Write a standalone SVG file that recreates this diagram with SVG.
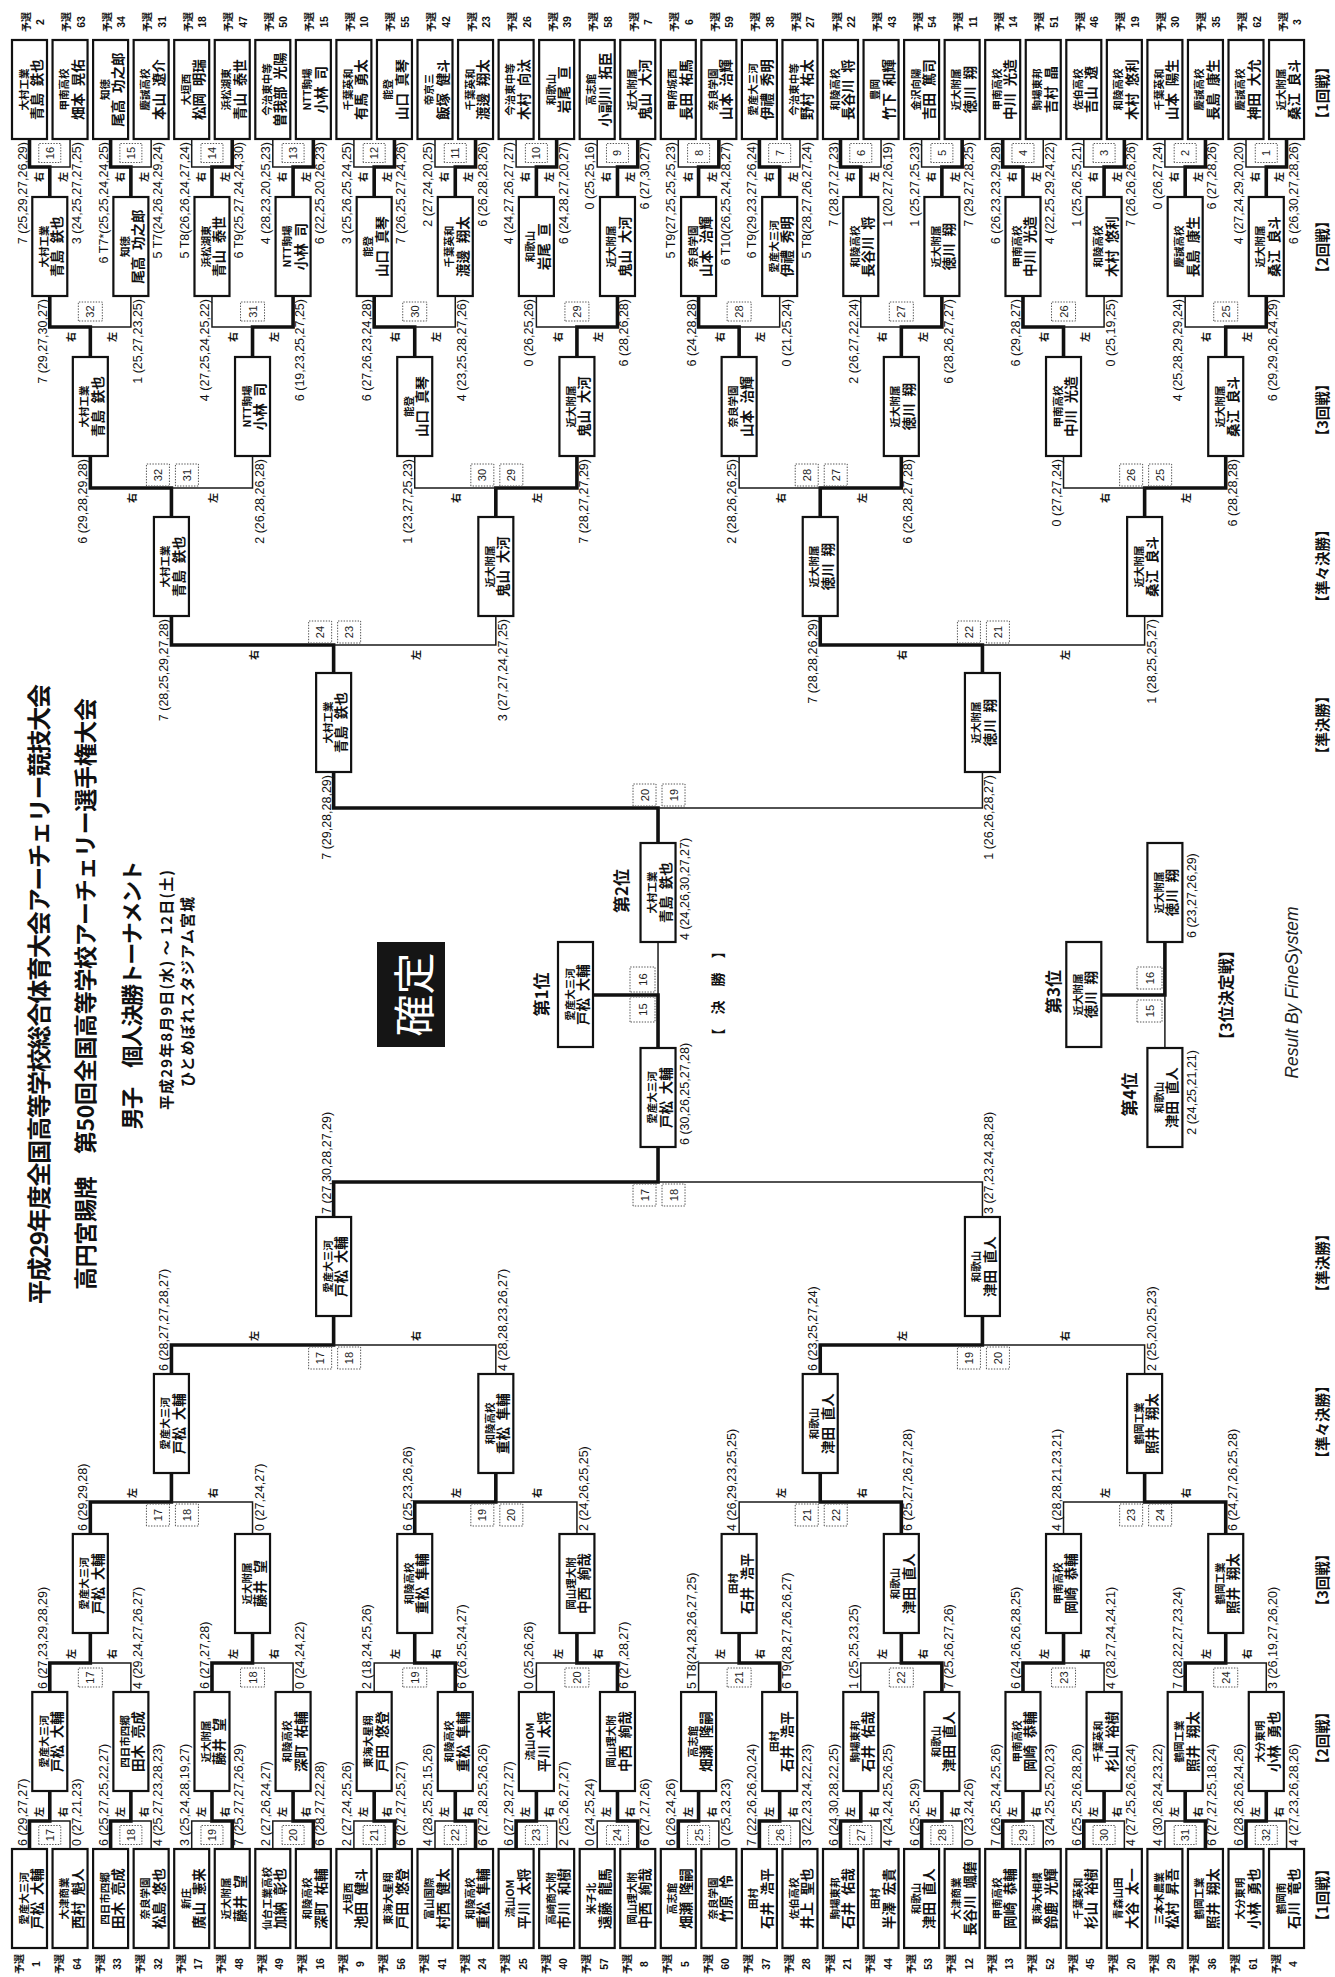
<svg xmlns="http://www.w3.org/2000/svg" width="1335" height="1977" viewBox="0 0 1335 1977">
<style>
text,tspan{dominant-baseline:central}
.b{fill:#fff;stroke:#111;stroke-width:2.2}
.k{fill:none;stroke:#111;stroke-width:3.6}
.t{fill:none;stroke:#1a1a1a;stroke-width:1.5}
.m{fill:#fff;stroke:#555;stroke-width:1;stroke-dasharray:1.4 1.4}
.s{font-family:'Noto Sans CJK JP',sans-serif;font-size:10.5px;font-weight:700;text-anchor:middle;fill:#111}
.n{font-family:'Noto Sans CJK JP',sans-serif;font-size:13.5px;font-weight:700;text-anchor:middle;fill:#111}
.y{font-family:'Noto Sans CJK JP',sans-serif;font-size:10px;font-weight:700;text-anchor:middle;fill:#111}
.yn{font-family:'Liberation Sans',Arial,sans-serif;font-size:10.5px;font-weight:700;text-anchor:middle;fill:#111}
.sc{font-family:'Liberation Sans',Arial,sans-serif;font-size:12.5px;fill:#111}
.e{text-anchor:end}
.st{text-anchor:start}
.mn{font-family:'Liberation Sans',Arial,sans-serif;font-size:11px;text-anchor:middle;fill:#222}
.lr{font-family:'Noto Sans CJK JP',sans-serif;font-size:10px;font-weight:700;text-anchor:middle;fill:#111}
.ti{font-family:'Noto Sans CJK JP',sans-serif;font-weight:700;text-anchor:middle;fill:#111}
.rd{font-family:'Noto Sans CJK JP',sans-serif;font-size:14.5px;font-weight:700;text-anchor:middle;fill:#111}
</style>
<rect width="1335" height="1977" fill="#fff"/>
<g id="page" transform="translate(0 1977) rotate(-90)">

<g id="connectors">
<path class="k" d="M1838 29.5H1810V49.78H1780M1838 110.6H1810V130.88H1780M1838 232.25H1810V211.98H1780M1838 313.35H1810V293.08H1780M1838 394.45H1810V374.18H1780M1838 475.55H1810V455.28H1780M1838 556.65H1810V536.38H1780M1838 637.75H1810V617.48H1780M1838 718.85H1810V698.58H1780M1838 759.4H1810V779.68H1780M1838 840.5H1810V860.78H1780M1838 962.15H1810V941.88H1780M1838 1002.7H1810V1022.98H1780M1838 1124.35H1810V1104.08H1780M1838 1205.45H1810V1185.18H1780M1838 1286.55H1810V1266.28H1780"/>
<path class="t" d="M1810 49.78V70.05H1838M1810 130.88V151.15H1838M1810 211.98V191.7H1838M1810 293.08V272.8H1838M1810 374.18V353.9H1838M1810 455.28V435H1838M1810 536.38V516.1H1838M1810 617.48V597.2H1838M1810 698.58V678.3H1838M1810 779.68V799.95H1838M1810 860.78V881.05H1838M1810 941.88V921.6H1838M1810 1022.98V1043.25H1838M1810 1104.08V1083.8H1838M1810 1185.18V1164.9H1838M1810 1266.28V1246H1838"/>
<path class="k" d="M1681 49.78H1650V90.33H1620M1681 293.08H1650V252.53H1620M1681 374.18H1650V414.73H1620M1681 617.48H1650V576.93H1620M1681 698.58H1650V739.13H1620M1681 941.88H1650V901.33H1620M1681 1022.98H1650V1063.53H1620M1681 1266.28H1650V1225.73H1620"/>
<path class="t" d="M1650 90.33V130.88H1681M1650 252.53V211.98H1681M1650 414.73V455.28H1681M1650 576.93V536.38H1681M1650 739.13V779.68H1681M1650 901.33V860.78H1681M1650 1063.53V1104.08H1681M1650 1225.73V1185.18H1681"/>
<path class="k" d="M1521 90.33H1489V171.43H1460M1521 576.93H1489V495.83H1460M1521 901.33H1489V820.23H1460M1521 1225.73H1489V1144.63H1460"/>
<path class="t" d="M1489 171.43V252.53H1521M1489 495.83V414.73H1521M1489 820.23V739.13H1521M1489 1144.63V1063.53H1521"/>
<path class="k" d="M1361 171.43H1332V333.63H1304M1361 820.23H1332V982.43H1304"/>
<path class="t" d="M1332 333.63V495.83H1361M1332 982.43V1144.63H1361"/>
<path class="k" d="M1205 333.63H1169V658.03H1134"/>
<path class="t" d="M1169 658.03V982.43H1205"/>
<path class="k" d="M128 29.5H156V49.78H186M128 110.6H156V130.88H186M128 232.25H156V211.98H186M128 313.35H156V293.08H186M128 394.45H156V374.18H186M128 475.55H156V455.28H186M128 516.1H156V536.38H186M128 637.75H156V617.48H186M128 678.3H156V698.58H186M128 759.4H156V779.68H186M128 840.5H156V860.78H186M128 921.6H156V941.88H186M128 1002.7H156V1022.98H186M128 1083.8H156V1104.08H186M128 1205.45H156V1185.18H186M128 1246H156V1266.28H186"/>
<path class="t" d="M156 49.78V70.05H128M156 130.88V151.15H128M156 211.98V191.7H128M156 293.08V272.8H128M156 374.18V353.9H128M156 455.28V435H128M156 536.38V556.65H128M156 617.48V597.2H128M156 698.58V718.85H128M156 779.68V799.95H128M156 860.78V881.05H128M156 941.88V962.15H128M156 1022.98V1043.25H128M156 1104.08V1124.35H128M156 1185.18V1164.9H128M156 1266.28V1286.55H128"/>
<path class="k" d="M285 49.78H314V90.33H344M285 211.98H314V252.53H344M285 455.28H314V414.73H344M285 617.48H314V576.93H344M285 779.68H314V739.13H344M285 941.88H314V901.33H344M285 1022.98H314V1063.53H344M285 1185.18H314V1225.73H344"/>
<path class="t" d="M314 90.33V130.88H285M314 252.53V293.08H285M314 414.73V374.18H285M314 576.93V536.38H285M314 739.13V698.58H285M314 901.33V860.78H285M314 1063.53V1104.08H285M314 1225.73V1266.28H285"/>
<path class="k" d="M443 90.33H475V171.43H504M443 414.73H475V495.83H504M443 901.33H475V820.23H504M443 1225.73H475V1144.63H504"/>
<path class="t" d="M475 171.43V252.53H443M475 495.83V576.93H443M475 820.23V739.13H443M475 1144.63V1063.53H443"/>
<path class="k" d="M603 171.43H632V333.63H661M603 820.23H632V982.43H661"/>
<path class="t" d="M632 333.63V495.83H603M632 982.43V1144.63H603"/>
<path class="k" d="M760 333.63H795V658.03H830"/>
<path class="t" d="M795 658.03V982.43H760"/>
<path class="k" d="M929 658.03H982V593"/>
<path class="t" d="M982 658.03H1035"/>
<path class="k" d="M1035 1164.9H982V1101.3"/>
<path class="t" d="M982 1164.9H930"/>

<g id="match-numbers">
<rect class="m" x="1814.5" y="38.78" width="19" height="22"/><rect class="m" x="1814.5" y="119.88" width="19" height="22"/><rect class="m" x="1814.5" y="200.98" width="19" height="22"/><rect class="m" x="1814.5" y="282.08" width="19" height="22"/><rect class="m" x="1814.5" y="363.18" width="19" height="22"/><rect class="m" x="1814.5" y="444.28" width="19" height="22"/><rect class="m" x="1814.5" y="525.38" width="19" height="22"/><rect class="m" x="1814.5" y="606.48" width="19" height="22"/><rect class="m" x="1814.5" y="687.58" width="19" height="22"/><rect class="m" x="1814.5" y="768.68" width="19" height="22"/><rect class="m" x="1814.5" y="849.78" width="19" height="22"/><rect class="m" x="1814.5" y="930.88" width="19" height="22"/><rect class="m" x="1814.5" y="1011.98" width="19" height="22"/><rect class="m" x="1814.5" y="1093.08" width="19" height="22"/><rect class="m" x="1814.5" y="1174.18" width="19" height="22"/><rect class="m" x="1814.5" y="1255.28" width="19" height="22"/>
<text class="mn"><tspan x="1824" y="49.78">16</tspan><tspan x="1824" y="130.88">15</tspan><tspan x="1824" y="211.98">14</tspan><tspan x="1824" y="293.08">13</tspan><tspan x="1824" y="374.18">12</tspan><tspan x="1824" y="455.28">11</tspan><tspan x="1824" y="536.38">10</tspan><tspan x="1824" y="617.48">9</tspan><tspan x="1824" y="698.58">8</tspan><tspan x="1824" y="779.68">7</tspan><tspan x="1824" y="860.78">6</tspan><tspan x="1824" y="941.88">5</tspan><tspan x="1824" y="1022.98">4</tspan><tspan x="1824" y="1104.08">3</tspan><tspan x="1824" y="1185.18">2</tspan><tspan x="1824" y="1266.28">1</tspan></text>
<rect class="m" x="132.5" y="38.78" width="19" height="22"/><rect class="m" x="132.5" y="119.88" width="19" height="22"/><rect class="m" x="132.5" y="200.98" width="19" height="22"/><rect class="m" x="132.5" y="282.08" width="19" height="22"/><rect class="m" x="132.5" y="363.18" width="19" height="22"/><rect class="m" x="132.5" y="444.28" width="19" height="22"/><rect class="m" x="132.5" y="525.38" width="19" height="22"/><rect class="m" x="132.5" y="606.48" width="19" height="22"/><rect class="m" x="132.5" y="687.58" width="19" height="22"/><rect class="m" x="132.5" y="768.68" width="19" height="22"/><rect class="m" x="132.5" y="849.78" width="19" height="22"/><rect class="m" x="132.5" y="930.88" width="19" height="22"/><rect class="m" x="132.5" y="1011.98" width="19" height="22"/><rect class="m" x="132.5" y="1093.08" width="19" height="22"/><rect class="m" x="132.5" y="1174.18" width="19" height="22"/><rect class="m" x="132.5" y="1255.28" width="19" height="22"/>
<text class="mn"><tspan x="142" y="49.78">17</tspan><tspan x="142" y="130.88">18</tspan><tspan x="142" y="211.98">19</tspan><tspan x="142" y="293.08">20</tspan><tspan x="142" y="374.18">21</tspan><tspan x="142" y="455.28">22</tspan><tspan x="142" y="536.38">23</tspan><tspan x="142" y="617.48">24</tspan><tspan x="142" y="698.58">25</tspan><tspan x="142" y="779.68">26</tspan><tspan x="142" y="860.78">27</tspan><tspan x="142" y="941.88">28</tspan><tspan x="142" y="1022.98">29</tspan><tspan x="142" y="1104.08">30</tspan><tspan x="142" y="1185.18">31</tspan><tspan x="142" y="1266.28">32</tspan></text>
<rect class="m" x="1656" y="78.33" width="19" height="24"/><rect class="m" x="1656" y="240.53" width="19" height="24"/><rect class="m" x="1656" y="402.73" width="19" height="24"/><rect class="m" x="1656" y="564.93" width="19" height="24"/><rect class="m" x="1656" y="727.13" width="19" height="24"/><rect class="m" x="1656" y="889.33" width="19" height="24"/><rect class="m" x="1656" y="1051.53" width="19" height="24"/><rect class="m" x="1656" y="1213.73" width="19" height="24"/>
<text class="mn"><tspan x="1665.5" y="90.33">32</tspan><tspan x="1665.5" y="252.53">31</tspan><tspan x="1665.5" y="414.73">30</tspan><tspan x="1665.5" y="576.93">29</tspan><tspan x="1665.5" y="739.13">28</tspan><tspan x="1665.5" y="901.33">27</tspan><tspan x="1665.5" y="1063.53">26</tspan><tspan x="1665.5" y="1225.73">25</tspan></text>
<rect class="m" x="290" y="78.33" width="19" height="24"/><rect class="m" x="290" y="240.53" width="19" height="24"/><rect class="m" x="290" y="402.73" width="19" height="24"/><rect class="m" x="290" y="564.93" width="19" height="24"/><rect class="m" x="290" y="727.13" width="19" height="24"/><rect class="m" x="290" y="889.33" width="19" height="24"/><rect class="m" x="290" y="1051.53" width="19" height="24"/><rect class="m" x="290" y="1213.73" width="19" height="24"/>
<text class="mn"><tspan x="299.5" y="90.33">17</tspan><tspan x="299.5" y="252.53">18</tspan><tspan x="299.5" y="414.73">19</tspan><tspan x="299.5" y="576.93">20</tspan><tspan x="299.5" y="739.13">21</tspan><tspan x="299.5" y="901.33">22</tspan><tspan x="299.5" y="1063.53">23</tspan><tspan x="299.5" y="1225.73">24</tspan></text>
<rect class="m" x="1491" y="146.43" width="22" height="23"/><rect class="m" x="1491" y="175.43" width="22" height="23"/><rect class="m" x="1491" y="470.83" width="22" height="23"/><rect class="m" x="1491" y="499.83" width="22" height="23"/><rect class="m" x="1491" y="795.23" width="22" height="23"/><rect class="m" x="1491" y="824.23" width="22" height="23"/><rect class="m" x="1491" y="1119.63" width="22" height="23"/><rect class="m" x="1491" y="1148.63" width="22" height="23"/>
<text class="mn"><tspan x="1502" y="157.93">32</tspan><tspan x="1502" y="186.93">31</tspan><tspan x="1502" y="482.33">30</tspan><tspan x="1502" y="511.33">29</tspan><tspan x="1502" y="806.73">28</tspan><tspan x="1502" y="835.73">27</tspan><tspan x="1502" y="1131.13">26</tspan><tspan x="1502" y="1160.13">25</tspan></text>
<rect class="m" x="451" y="146.43" width="22" height="23"/><rect class="m" x="451" y="175.43" width="22" height="23"/><rect class="m" x="451" y="470.83" width="22" height="23"/><rect class="m" x="451" y="499.83" width="22" height="23"/><rect class="m" x="451" y="795.23" width="22" height="23"/><rect class="m" x="451" y="824.23" width="22" height="23"/><rect class="m" x="451" y="1119.63" width="22" height="23"/><rect class="m" x="451" y="1148.63" width="22" height="23"/>
<text class="mn"><tspan x="462" y="157.93">17</tspan><tspan x="462" y="186.93">18</tspan><tspan x="462" y="482.33">19</tspan><tspan x="462" y="511.33">20</tspan><tspan x="462" y="806.73">21</tspan><tspan x="462" y="835.73">22</tspan><tspan x="462" y="1131.13">23</tspan><tspan x="462" y="1160.13">24</tspan></text>
<rect class="m" x="1334" y="308.63" width="22" height="23"/><rect class="m" x="1334" y="337.63" width="22" height="23"/><rect class="m" x="1334" y="957.43" width="22" height="23"/><rect class="m" x="1334" y="986.43" width="22" height="23"/>
<text class="mn"><tspan x="1345" y="320.13">24</tspan><tspan x="1345" y="349.13">23</tspan><tspan x="1345" y="968.93">22</tspan><tspan x="1345" y="997.93">21</tspan></text>
<rect class="m" x="608" y="308.63" width="22" height="23"/><rect class="m" x="608" y="337.63" width="22" height="23"/><rect class="m" x="608" y="957.43" width="22" height="23"/><rect class="m" x="608" y="986.43" width="22" height="23"/>
<text class="mn"><tspan x="619" y="320.13">17</tspan><tspan x="619" y="349.13">18</tspan><tspan x="619" y="968.93">19</tspan><tspan x="619" y="997.93">20</tspan></text>
<rect class="m" x="1171" y="633.03" width="22" height="23"/><rect class="m" x="1171" y="662.03" width="22" height="23"/>
<text class="mn"><tspan x="1182" y="644.53">20</tspan><tspan x="1182" y="673.53">19</tspan></text>
<rect class="m" x="771" y="633.03" width="22" height="23"/><rect class="m" x="771" y="662.03" width="22" height="23"/>
<text class="mn"><tspan x="782" y="644.53">17</tspan><tspan x="782" y="673.53">18</tspan></text>
<rect class="m" x="985" y="630" width="25" height="25"/><rect class="m" x="955" y="630" width="25" height="25"/>
<text class="mn"><tspan x="997.5" y="642.5">16</tspan><tspan x="967.5" y="642.5">15</tspan></text>
<rect class="m" x="988" y="1137" width="22" height="25"/><rect class="m" x="955" y="1137" width="22" height="25"/>
<text class="mn"><tspan x="999" y="1149.5">16</tspan><tspan x="966" y="1149.5">15</tspan></text>
</g>

<g id="side-labels">
<text class="lr"><tspan x="1800" y="37.78">右</tspan><tspan x="1800" y="61.78">左</tspan><tspan x="1800" y="118.88">右</tspan><tspan x="1800" y="142.88">左</tspan><tspan x="1800" y="199.98">右</tspan><tspan x="1800" y="223.98">左</tspan><tspan x="1800" y="281.08">右</tspan><tspan x="1800" y="305.08">左</tspan><tspan x="1800" y="362.18">右</tspan><tspan x="1800" y="386.18">左</tspan><tspan x="1800" y="443.28">右</tspan><tspan x="1800" y="467.28">左</tspan><tspan x="1800" y="524.38">右</tspan><tspan x="1800" y="548.38">左</tspan><tspan x="1800" y="605.48">右</tspan><tspan x="1800" y="629.48">左</tspan><tspan x="1800" y="686.58">右</tspan><tspan x="1800" y="710.58">左</tspan><tspan x="1800" y="767.68">右</tspan><tspan x="1800" y="791.68">左</tspan><tspan x="1800" y="848.78">右</tspan><tspan x="1800" y="872.78">左</tspan><tspan x="1800" y="929.88">右</tspan><tspan x="1800" y="953.88">左</tspan><tspan x="1800" y="1010.98">右</tspan><tspan x="1800" y="1034.98">左</tspan><tspan x="1800" y="1092.08">右</tspan><tspan x="1800" y="1116.08">左</tspan><tspan x="1800" y="1173.18">右</tspan><tspan x="1800" y="1197.18">左</tspan><tspan x="1800" y="1254.28">右</tspan><tspan x="1800" y="1278.28">左</tspan></text>
<text class="lr"><tspan x="1640" y="70.05">右</tspan><tspan x="1640" y="110.61">左</tspan><tspan x="1640" y="232.25">右</tspan><tspan x="1640" y="272.81">左</tspan><tspan x="1640" y="394.45">右</tspan><tspan x="1640" y="435.01">左</tspan><tspan x="1640" y="556.65">右</tspan><tspan x="1640" y="597.21">左</tspan><tspan x="1640" y="718.85">右</tspan><tspan x="1640" y="759.41">左</tspan><tspan x="1640" y="881.05">右</tspan><tspan x="1640" y="921.61">左</tspan><tspan x="1640" y="1043.25">右</tspan><tspan x="1640" y="1083.81">左</tspan><tspan x="1640" y="1205.45">右</tspan><tspan x="1640" y="1246.01">左</tspan></text>
<text class="lr"><tspan x="1479" y="130.88">右</tspan><tspan x="1479" y="211.98">左</tspan><tspan x="1479" y="455.28">右</tspan><tspan x="1479" y="536.38">左</tspan><tspan x="1479" y="779.68">右</tspan><tspan x="1479" y="860.78">左</tspan><tspan x="1479" y="1104.08">右</tspan><tspan x="1479" y="1185.18">左</tspan></text>
<text class="lr"><tspan x="1322" y="252.53">右</tspan><tspan x="1322" y="414.73">左</tspan><tspan x="1322" y="901.33">右</tspan><tspan x="1322" y="1063.53">左</tspan></text>
<text class="lr"><tspan x="165" y="37.78">左</tspan><tspan x="165" y="61.78">右</tspan><tspan x="165" y="118.88">左</tspan><tspan x="165" y="142.88">右</tspan><tspan x="165" y="199.98">左</tspan><tspan x="165" y="223.98">右</tspan><tspan x="165" y="281.08">左</tspan><tspan x="165" y="305.08">右</tspan><tspan x="165" y="362.18">左</tspan><tspan x="165" y="386.18">右</tspan><tspan x="165" y="443.28">左</tspan><tspan x="165" y="467.28">右</tspan><tspan x="165" y="524.38">左</tspan><tspan x="165" y="548.38">右</tspan><tspan x="165" y="605.48">左</tspan><tspan x="165" y="629.48">右</tspan><tspan x="165" y="686.58">左</tspan><tspan x="165" y="710.58">右</tspan><tspan x="165" y="767.68">左</tspan><tspan x="165" y="791.68">右</tspan><tspan x="165" y="848.78">左</tspan><tspan x="165" y="872.78">右</tspan><tspan x="165" y="929.88">左</tspan><tspan x="165" y="953.88">右</tspan><tspan x="165" y="1010.98">左</tspan><tspan x="165" y="1034.98">右</tspan><tspan x="165" y="1092.08">左</tspan><tspan x="165" y="1116.08">右</tspan><tspan x="165" y="1173.18">左</tspan><tspan x="165" y="1197.18">右</tspan><tspan x="165" y="1254.28">左</tspan><tspan x="165" y="1278.28">右</tspan></text>
<text class="lr"><tspan x="323" y="70.05">左</tspan><tspan x="323" y="110.61">右</tspan><tspan x="323" y="232.25">左</tspan><tspan x="323" y="272.81">右</tspan><tspan x="323" y="394.45">左</tspan><tspan x="323" y="435.01">右</tspan><tspan x="323" y="556.65">左</tspan><tspan x="323" y="597.21">右</tspan><tspan x="323" y="718.85">左</tspan><tspan x="323" y="759.41">右</tspan><tspan x="323" y="881.05">左</tspan><tspan x="323" y="921.61">右</tspan><tspan x="323" y="1043.25">左</tspan><tspan x="323" y="1083.81">右</tspan><tspan x="323" y="1205.45">左</tspan><tspan x="323" y="1246.01">右</tspan></text>
<text class="lr"><tspan x="484" y="130.88">左</tspan><tspan x="484" y="211.98">右</tspan><tspan x="484" y="455.28">左</tspan><tspan x="484" y="536.38">右</tspan><tspan x="484" y="779.68">左</tspan><tspan x="484" y="860.78">右</tspan><tspan x="484" y="1104.08">左</tspan><tspan x="484" y="1185.18">右</tspan></text>
<text class="lr"><tspan x="641" y="252.53">左</tspan><tspan x="641" y="414.73">右</tspan><tspan x="641" y="901.33">左</tspan><tspan x="641" y="1063.53">右</tspan></text>
</g>

<g id="scores">
<text class="sc e"><tspan x="1835" y="22.5">7 (25,29,27,26,29)</tspan><tspan x="1835" y="77.05">3 (24,25,27,27,25)</tspan><tspan x="1835" y="103.6">6 T7*(25,25,24,24,25)</tspan><tspan x="1835" y="158.15">5 T7(24,26,24,29,24)</tspan><tspan x="1835" y="184.7">5 T8(26,26,24,27,24)</tspan><tspan x="1835" y="239.25">6 T9(25,27,24,24,30)</tspan><tspan x="1835" y="265.8">4 (28,23,20,25,23)</tspan><tspan x="1835" y="320.35">6 (22,25,20,26,23)</tspan><tspan x="1835" y="346.9">3 (25,26,25,24,25)</tspan><tspan x="1835" y="401.45">7 (26,25,27,24,26)</tspan><tspan x="1835" y="428">2 (27,24,20,25)</tspan><tspan x="1835" y="482.55">6 (26,28,28,26)</tspan><tspan x="1835" y="509.1">4 (24,27,26,27,27)</tspan><tspan x="1835" y="563.65">6 (24,28,27,20,27)</tspan><tspan x="1835" y="590.2">0 (25,25,16)</tspan><tspan x="1835" y="644.75">6 (27,30,27)</tspan><tspan x="1835" y="671.3">5 T9(27,25,25,25,23)</tspan><tspan x="1835" y="725.85">6 T10(26,25,24,28,27)</tspan><tspan x="1835" y="752.4">6 T9(29,23,27,26,24)</tspan><tspan x="1835" y="806.95">5 T8(28,27,26,27,24)</tspan><tspan x="1835" y="833.5">7 (28,27,27,23)</tspan><tspan x="1835" y="888.05">1 (20,27,26,19)</tspan><tspan x="1835" y="914.6">1 (25,27,25,23)</tspan><tspan x="1835" y="969.15">7 (29,27,28,25)</tspan><tspan x="1835" y="995.7">6 (26,23,23,29,28)</tspan><tspan x="1835" y="1050.25">4 (22,25,29,24,22)</tspan><tspan x="1835" y="1076.8">1 (25,26,25,21)</tspan><tspan x="1835" y="1131.35">7 (26,26,26,26)</tspan><tspan x="1835" y="1157.9">0 (26,27,24)</tspan><tspan x="1835" y="1212.45">6 (27,28,26)</tspan><tspan x="1835" y="1239">4 (27,24,29,20,20)</tspan><tspan x="1835" y="1293.55">6 (26,30,27,28,26)</tspan></text>
<text class="sc e"><tspan x="1678" y="42.78">7 (29,27,30,27)</tspan><tspan x="1678" y="137.88">1 (25,27,23,25)</tspan><tspan x="1678" y="204.98">4 (27,25,24,25,22)</tspan><tspan x="1678" y="300.08">6 (19,23,25,27,25)</tspan><tspan x="1678" y="367.18">6 (27,26,23,24,28)</tspan><tspan x="1678" y="462.28">4 (23,25,28,27,26)</tspan><tspan x="1678" y="529.38">0 (26,25,26)</tspan><tspan x="1678" y="624.48">6 (28,26,28)</tspan><tspan x="1678" y="691.58">6 (24,28,28)</tspan><tspan x="1678" y="786.68">0 (21,25,24)</tspan><tspan x="1678" y="853.78">2 (26,27,22,24)</tspan><tspan x="1678" y="948.88">6 (28,26,27,27)</tspan><tspan x="1678" y="1015.98">6 (29,28,27)</tspan><tspan x="1678" y="1111.08">0 (25,19,25)</tspan><tspan x="1678" y="1178.18">4 (25,28,29,29,24)</tspan><tspan x="1678" y="1273.28">6 (29,29,26,24,29)</tspan></text>
<text class="sc e"><tspan x="1518" y="83.33">6 (29,28,29,28)</tspan><tspan x="1518" y="259.53">2 (26,28,26,28)</tspan><tspan x="1518" y="407.73">1 (23,27,25,23)</tspan><tspan x="1518" y="583.93">7 (28,27,27,29)</tspan><tspan x="1518" y="732.13">2 (28,26,26,25)</tspan><tspan x="1518" y="908.33">6 (26,28,27,28)</tspan><tspan x="1518" y="1056.53">0 (27,27,24)</tspan><tspan x="1518" y="1232.73">6 (28,28,28)</tspan></text>
<text class="sc e"><tspan x="1358" y="164.43">7 (28,25,29,27,28)</tspan><tspan x="1358" y="502.83">3 (27,27,24,27,25)</tspan><tspan x="1358" y="813.23">7 (28,28,26,29)</tspan><tspan x="1358" y="1151.63">1 (28,25,25,27)</tspan></text>
<text class="sc e"><tspan x="1202" y="326.63">7 (29,28,28,29)</tspan><tspan x="1202" y="989.43">1 (26,26,28,27)</tspan></text>
<text class="sc st"><tspan x="131" y="22.5">6 (29,27,27)</tspan><tspan x="131" y="77.05">0 (27,21,23)</tspan><tspan x="131" y="103.6">6 (25,27,25,22,27)</tspan><tspan x="131" y="158.15">4 (25,27,23,28,23)</tspan><tspan x="131" y="184.7">3 (25,24,28,19,27)</tspan><tspan x="131" y="239.25">7 (25,27,27,26,29)</tspan><tspan x="131" y="265.8">2 (27,26,24,27)</tspan><tspan x="131" y="320.35">6 (28,27,22,28)</tspan><tspan x="131" y="346.9">2 (27,24,25,26)</tspan><tspan x="131" y="401.45">6 (27,27,25,27)</tspan><tspan x="131" y="428">4 (28,25,25,15,26)</tspan><tspan x="131" y="482.55">6 (27,28,25,26,26)</tspan><tspan x="131" y="509.1">6 (27,29,27,27)</tspan><tspan x="131" y="563.65">2 (25,26,27,27)</tspan><tspan x="131" y="590.2">0 (24,25,24)</tspan><tspan x="131" y="644.75">6 (27,27,26)</tspan><tspan x="131" y="671.3">6 (26,24,26)</tspan><tspan x="131" y="725.85">0 (25,23,23)</tspan><tspan x="131" y="752.4">7 (22,26,26,20,24)</tspan><tspan x="131" y="806.95">3 (22,23,24,22,23)</tspan><tspan x="131" y="833.5">6 (24,30,28,22,25)</tspan><tspan x="131" y="888.05">4 (24,24,25,26,25)</tspan><tspan x="131" y="914.6">6 (25,25,29)</tspan><tspan x="131" y="969.15">0 (23,24,26)</tspan><tspan x="131" y="995.7">7 (26,25,24,25,26)</tspan><tspan x="131" y="1050.25">3 (24,25,25,20,23)</tspan><tspan x="131" y="1076.8">6 (25,25,26,28,26)</tspan><tspan x="131" y="1131.35">4 (27,25,26,26,24)</tspan><tspan x="131" y="1157.9">4 (30,26,24,23,22)</tspan><tspan x="131" y="1212.45">6 (27,27,25,18,24)</tspan><tspan x="131" y="1239">6 (28,26,26,24,26)</tspan><tspan x="131" y="1293.55">4 (27,23,26,28,26)</tspan></text>
<text class="sc st"><tspan x="288" y="42.78">6 (27,23,29,28,29)</tspan><tspan x="288" y="137.88">4 (29,24,27,26,27)</tspan><tspan x="288" y="204.98">6 (27,27,28)</tspan><tspan x="288" y="300.08">0 (24,24,22)</tspan><tspan x="288" y="367.18">2 (18,24,25,26)</tspan><tspan x="288" y="462.28">6 (26,25,24,27)</tspan><tspan x="288" y="529.38">0 (25,26,26)</tspan><tspan x="288" y="624.48">6 (27,28,27)</tspan><tspan x="288" y="691.58">5 T8(24,28,26,27,25)</tspan><tspan x="288" y="786.68">6 T9(28,27,26,26,27)</tspan><tspan x="288" y="853.78">1 (25,25,23,25)</tspan><tspan x="288" y="948.88">7 (25,26,27,26)</tspan><tspan x="288" y="1015.98">6 (24,26,26,28,25)</tspan><tspan x="288" y="1111.08">4 (28,27,24,24,21)</tspan><tspan x="288" y="1178.18">7 (28,22,27,23,24)</tspan><tspan x="288" y="1273.28">3 (26,19,27,26,20)</tspan></text>
<text class="sc st"><tspan x="446" y="83.33">6 (29,29,28)</tspan><tspan x="446" y="259.53">0 (27,24,27)</tspan><tspan x="446" y="407.73">6 (25,23,26,26)</tspan><tspan x="446" y="583.93">2 (24,26,25,25)</tspan><tspan x="446" y="732.13">4 (26,29,23,25,25)</tspan><tspan x="446" y="908.33">6 (25,27,26,27,28)</tspan><tspan x="446" y="1056.53">4 (28,28,21,23,21)</tspan><tspan x="446" y="1232.73">6 (24,27,26,25,28)</tspan></text>
<text class="sc st"><tspan x="606" y="164.43">6 (28,27,27,28,27)</tspan><tspan x="606" y="502.83">4 (28,28,23,26,27)</tspan><tspan x="606" y="813.23">6 (23,25,27,24)</tspan><tspan x="606" y="1151.63">2 (25,20,25,23)</tspan></text>
<text class="sc st"><tspan x="763" y="326.63">7 (27,30,28,27,29)</tspan><tspan x="763" y="989.43">3 (27,23,24,28,28)</tspan></text>
<text class="sc st" x="1037" y="685">4 (24,26,30,27,27)</text>
<text class="sc st" x="832" y="685">6 (30,26,25,27,28)</text>
<text class="sc st" x="1039" y="1192">6 (23,27,26,29)</text>
<text class="sc e" x="927" y="1192">2 (24,25,21,21)</text>
</g>
</g>

<g id="top-r1">
<g id="t1-00" transform="translate(1838 12)"><rect class="b" width="99" height="35"/><text class="s" x="49.5" y="11">大村工業</text><text class="n" x="49.5" y="24">青島&#8194;鉄也</text><text class="y" x="117" y="13">予選</text><text class="yn" x="117" y="28">2</text></g>
<g id="t1-01" transform="translate(1838 52.55)"><rect class="b" width="99" height="35"/><text class="s" x="49.5" y="11">甲南高校</text><text class="n" x="49.5" y="24">畑本&#8194;晃佑</text><text class="y" x="117" y="13">予選</text><text class="yn" x="117" y="28">63</text></g>
<g id="t1-02" transform="translate(1838 93.1)"><rect class="b" width="99" height="35"/><text class="s" x="49.5" y="11">知徳</text><text class="n" x="49.5" y="24">尾高&#8194;功之郎</text><text class="y" x="117" y="13">予選</text><text class="yn" x="117" y="28">34</text></g>
<g id="t1-03" transform="translate(1838 133.65)"><rect class="b" width="99" height="35"/><text class="s" x="49.5" y="11">慶誠高校</text><text class="n" x="49.5" y="24">本山&#8194;遼介</text><text class="y" x="117" y="13">予選</text><text class="yn" x="117" y="28">31</text></g>
<g id="t1-04" transform="translate(1838 174.2)"><rect class="b" width="99" height="35"/><text class="s" x="49.5" y="11">大垣西</text><text class="n" x="49.5" y="24">松岡&#8194;明瑞</text><text class="y" x="117" y="13">予選</text><text class="yn" x="117" y="28">18</text></g>
<g id="t1-05" transform="translate(1838 214.75)"><rect class="b" width="99" height="35"/><text class="s" x="49.5" y="11">浜松湖東</text><text class="n" x="49.5" y="24">青山&#8194;泰世</text><text class="y" x="117" y="13">予選</text><text class="yn" x="117" y="28">47</text></g>
<g id="t1-06" transform="translate(1838 255.3)"><rect class="b" width="99" height="35"/><text class="s" x="49.5" y="11">今治東中等</text><text class="n" x="49.5" y="24">曽我部&#8194;光陽</text><text class="y" x="117" y="13">予選</text><text class="yn" x="117" y="28">50</text></g>
<g id="t1-07" transform="translate(1838 295.85)"><rect class="b" width="99" height="35"/><text class="s" x="49.5" y="11">NTT駒場</text><text class="n" x="49.5" y="24">小林&#8194;司</text><text class="y" x="117" y="13">予選</text><text class="yn" x="117" y="28">15</text></g>
<g id="t1-08" transform="translate(1838 336.4)"><rect class="b" width="99" height="35"/><text class="s" x="49.5" y="11">千葉英和</text><text class="n" x="49.5" y="24">有馬&#8194;勇太</text><text class="y" x="117" y="13">予選</text><text class="yn" x="117" y="28">10</text></g>
<g id="t1-09" transform="translate(1838 376.95)"><rect class="b" width="99" height="35"/><text class="s" x="49.5" y="11">能登</text><text class="n" x="49.5" y="24">山口&#8194;真琴</text><text class="y" x="117" y="13">予選</text><text class="yn" x="117" y="28">55</text></g>
<g id="t1-10" transform="translate(1838 417.5)"><rect class="b" width="99" height="35"/><text class="s" x="49.5" y="11">帝京三</text><text class="n" x="49.5" y="24">飯塚&#8194;健斗</text><text class="y" x="117" y="13">予選</text><text class="yn" x="117" y="28">42</text></g>
<g id="t1-11" transform="translate(1838 458.05)"><rect class="b" width="99" height="35"/><text class="s" x="49.5" y="11">千葉英和</text><text class="n" x="49.5" y="24">渡邊&#8194;翔太</text><text class="y" x="117" y="13">予選</text><text class="yn" x="117" y="28">23</text></g>
<g id="t1-12" transform="translate(1838 498.6)"><rect class="b" width="99" height="35"/><text class="s" x="49.5" y="11">今治東中等</text><text class="n" x="49.5" y="24">木村&#8194;向汰</text><text class="y" x="117" y="13">予選</text><text class="yn" x="117" y="28">26</text></g>
<g id="t1-13" transform="translate(1838 539.15)"><rect class="b" width="99" height="35"/><text class="s" x="49.5" y="11">和歌山</text><text class="n" x="49.5" y="24">岩尾&#8194;亘</text><text class="y" x="117" y="13">予選</text><text class="yn" x="117" y="28">39</text></g>
<g id="t1-14" transform="translate(1838 579.7)"><rect class="b" width="99" height="35"/><text class="s" x="49.5" y="11">高志館</text><text class="n" x="49.5" y="24">小副川&#8194;拓臣</text><text class="y" x="117" y="13">予選</text><text class="yn" x="117" y="28">58</text></g>
<g id="t1-15" transform="translate(1838 620.25)"><rect class="b" width="99" height="35"/><text class="s" x="49.5" y="11">近大附属</text><text class="n" x="49.5" y="24">鬼山&#8194;大河</text><text class="y" x="117" y="13">予選</text><text class="yn" x="117" y="28">7</text></g>
<g id="t1-16" transform="translate(1838 660.8)"><rect class="b" width="99" height="35"/><text class="s" x="49.5" y="11">甲府城西</text><text class="n" x="49.5" y="24">長田&#8194;祐馬</text><text class="y" x="117" y="13">予選</text><text class="yn" x="117" y="28">6</text></g>
<g id="t1-17" transform="translate(1838 701.35)"><rect class="b" width="99" height="35"/><text class="s" x="49.5" y="11">奈良学園</text><text class="n" x="49.5" y="24">山本&#8194;治輝</text><text class="y" x="117" y="13">予選</text><text class="yn" x="117" y="28">59</text></g>
<g id="t1-18" transform="translate(1838 741.9)"><rect class="b" width="99" height="35"/><text class="s" x="49.5" y="11">愛産大三河</text><text class="n" x="49.5" y="24">伊禮&#8194;秀明</text><text class="y" x="117" y="13">予選</text><text class="yn" x="117" y="28">38</text></g>
<g id="t1-19" transform="translate(1838 782.45)"><rect class="b" width="99" height="35"/><text class="s" x="49.5" y="11">今治東中等</text><text class="n" x="49.5" y="24">野村&#8194;祐太</text><text class="y" x="117" y="13">予選</text><text class="yn" x="117" y="28">27</text></g>
<g id="t1-20" transform="translate(1838 823)"><rect class="b" width="99" height="35"/><text class="s" x="49.5" y="11">和陵高校</text><text class="n" x="49.5" y="24">長谷川&#8194;将</text><text class="y" x="117" y="13">予選</text><text class="yn" x="117" y="28">22</text></g>
<g id="t1-21" transform="translate(1838 863.55)"><rect class="b" width="99" height="35"/><text class="s" x="49.5" y="11">豊岡</text><text class="n" x="49.5" y="24">竹下&#8194;和輝</text><text class="y" x="117" y="13">予選</text><text class="yn" x="117" y="28">43</text></g>
<g id="t1-22" transform="translate(1838 904.1)"><rect class="b" width="99" height="35"/><text class="s" x="49.5" y="11">金沢向陽</text><text class="n" x="49.5" y="24">吉田&#8194;篤司</text><text class="y" x="117" y="13">予選</text><text class="yn" x="117" y="28">54</text></g>
<g id="t1-23" transform="translate(1838 944.65)"><rect class="b" width="99" height="35"/><text class="s" x="49.5" y="11">近大附属</text><text class="n" x="49.5" y="24">徳川&#8194;翔</text><text class="y" x="117" y="13">予選</text><text class="yn" x="117" y="28">11</text></g>
<g id="t1-24" transform="translate(1838 985.2)"><rect class="b" width="99" height="35"/><text class="s" x="49.5" y="11">甲南高校</text><text class="n" x="49.5" y="24">中川&#8194;光造</text><text class="y" x="117" y="13">予選</text><text class="yn" x="117" y="28">14</text></g>
<g id="t1-25" transform="translate(1838 1025.75)"><rect class="b" width="99" height="35"/><text class="s" x="49.5" y="11">駒場東邦</text><text class="n" x="49.5" y="24">吉村&#8194;晶</text><text class="y" x="117" y="13">予選</text><text class="yn" x="117" y="28">51</text></g>
<g id="t1-26" transform="translate(1838 1066.3)"><rect class="b" width="99" height="35"/><text class="s" x="49.5" y="11">佐伯高校</text><text class="n" x="49.5" y="24">吉山&#8194;遼</text><text class="y" x="117" y="13">予選</text><text class="yn" x="117" y="28">46</text></g>
<g id="t1-27" transform="translate(1838 1106.85)"><rect class="b" width="99" height="35"/><text class="s" x="49.5" y="11">和陵高校</text><text class="n" x="49.5" y="24">木村&#8194;悠利</text><text class="y" x="117" y="13">予選</text><text class="yn" x="117" y="28">19</text></g>
<g id="t1-28" transform="translate(1838 1147.4)"><rect class="b" width="99" height="35"/><text class="s" x="49.5" y="11">千葉英和</text><text class="n" x="49.5" y="24">山本&#8194;陽生</text><text class="y" x="117" y="13">予選</text><text class="yn" x="117" y="28">30</text></g>
<g id="t1-29" transform="translate(1838 1187.95)"><rect class="b" width="99" height="35"/><text class="s" x="49.5" y="11">慶誠高校</text><text class="n" x="49.5" y="24">長島&#8194;康生</text><text class="y" x="117" y="13">予選</text><text class="yn" x="117" y="28">35</text></g>
<g id="t1-30" transform="translate(1838 1228.5)"><rect class="b" width="99" height="35"/><text class="s" x="49.5" y="11">慶誠高校</text><text class="n" x="49.5" y="24">神田&#8194;大允</text><text class="y" x="117" y="13">予選</text><text class="yn" x="117" y="28">62</text></g>
<g id="t1-31" transform="translate(1838 1269.05)"><rect class="b" width="99" height="35"/><text class="s" x="49.5" y="11">近大附属</text><text class="n" x="49.5" y="24">桑江&#8194;良斗</text><text class="y" x="117" y="13">予選</text><text class="yn" x="117" y="28">3</text></g>
</g>

<g id="bottom-r1">
<g id="b1-00" transform="translate(29 12)"><rect class="b" width="99" height="35"/><text class="s" x="49.5" y="11">愛産大三河</text><text class="n" x="49.5" y="24">戸松&#8194;大輔</text><text class="y" x="-16" y="6">予選</text><text class="yn" x="-16" y="24">1</text></g>
<g id="b1-01" transform="translate(29 52.55)"><rect class="b" width="99" height="35"/><text class="s" x="49.5" y="11">大津商業</text><text class="n" x="49.5" y="24">西村&#8194;魁人</text><text class="y" x="-16" y="6">予選</text><text class="yn" x="-16" y="24">64</text></g>
<g id="b1-02" transform="translate(29 93.1)"><rect class="b" width="99" height="35"/><text class="s" x="49.5" y="11">四日市四郷</text><text class="n" x="49.5" y="24">田木&#8194;亮成</text><text class="y" x="-16" y="6">予選</text><text class="yn" x="-16" y="24">33</text></g>
<g id="b1-03" transform="translate(29 133.65)"><rect class="b" width="99" height="35"/><text class="s" x="49.5" y="11">奈良学園</text><text class="n" x="49.5" y="24">松島&#8194;悠也</text><text class="y" x="-16" y="6">予選</text><text class="yn" x="-16" y="24">32</text></g>
<g id="b1-04" transform="translate(29 174.2)"><rect class="b" width="99" height="35"/><text class="s" x="49.5" y="11">新庄</text><text class="n" x="49.5" y="24">廣山&#8194;憲来</text><text class="y" x="-16" y="6">予選</text><text class="yn" x="-16" y="24">17</text></g>
<g id="b1-05" transform="translate(29 214.75)"><rect class="b" width="99" height="35"/><text class="s" x="49.5" y="11">近大附属</text><text class="n" x="49.5" y="24">藤井&#8194;望</text><text class="y" x="-16" y="6">予選</text><text class="yn" x="-16" y="24">48</text></g>
<g id="b1-06" transform="translate(29 255.3)"><rect class="b" width="99" height="35"/><text class="s" x="49.5" y="11">仙台工業高校</text><text class="n" x="49.5" y="24">加納&#8194;彰也</text><text class="y" x="-16" y="6">予選</text><text class="yn" x="-16" y="24">49</text></g>
<g id="b1-07" transform="translate(29 295.85)"><rect class="b" width="99" height="35"/><text class="s" x="49.5" y="11">和陵高校</text><text class="n" x="49.5" y="24">深町&#8194;祐輔</text><text class="y" x="-16" y="6">予選</text><text class="yn" x="-16" y="24">16</text></g>
<g id="b1-08" transform="translate(29 336.4)"><rect class="b" width="99" height="35"/><text class="s" x="49.5" y="11">大垣西</text><text class="n" x="49.5" y="24">池田&#8194;健斗</text><text class="y" x="-16" y="6">予選</text><text class="yn" x="-16" y="24">9</text></g>
<g id="b1-09" transform="translate(29 376.95)"><rect class="b" width="99" height="35"/><text class="s" x="49.5" y="11">東海大星翔</text><text class="n" x="49.5" y="24">戸田&#8194;悠登</text><text class="y" x="-16" y="6">予選</text><text class="yn" x="-16" y="24">56</text></g>
<g id="b1-10" transform="translate(29 417.5)"><rect class="b" width="99" height="35"/><text class="s" x="49.5" y="11">富山国際</text><text class="n" x="49.5" y="24">村西&#8194;健太</text><text class="y" x="-16" y="6">予選</text><text class="yn" x="-16" y="24">41</text></g>
<g id="b1-11" transform="translate(29 458.05)"><rect class="b" width="99" height="35"/><text class="s" x="49.5" y="11">和陵高校</text><text class="n" x="49.5" y="24">重松&#8194;隼輔</text><text class="y" x="-16" y="6">予選</text><text class="yn" x="-16" y="24">24</text></g>
<g id="b1-12" transform="translate(29 498.6)"><rect class="b" width="99" height="35"/><text class="s" x="49.5" y="11">流山OM</text><text class="n" x="49.5" y="24">平川&#8194;太将</text><text class="y" x="-16" y="6">予選</text><text class="yn" x="-16" y="24">25</text></g>
<g id="b1-13" transform="translate(29 539.15)"><rect class="b" width="99" height="35"/><text class="s" x="49.5" y="11">高崎商大附</text><text class="n" x="49.5" y="24">市川&#8194;和樹</text><text class="y" x="-16" y="6">予選</text><text class="yn" x="-16" y="24">40</text></g>
<g id="b1-14" transform="translate(29 579.7)"><rect class="b" width="99" height="35"/><text class="s" x="49.5" y="11">米子北</text><text class="n" x="49.5" y="24">遠藤&#8194;龍馬</text><text class="y" x="-16" y="6">予選</text><text class="yn" x="-16" y="24">57</text></g>
<g id="b1-15" transform="translate(29 620.25)"><rect class="b" width="99" height="35"/><text class="s" x="49.5" y="11">岡山理大附</text><text class="n" x="49.5" y="24">中西&#8194;絢哉</text><text class="y" x="-16" y="6">予選</text><text class="yn" x="-16" y="24">8</text></g>
<g id="b1-16" transform="translate(29 660.8)"><rect class="b" width="99" height="35"/><text class="s" x="49.5" y="11">高志館</text><text class="n" x="49.5" y="24">畑瀬&#8194;隆嗣</text><text class="y" x="-16" y="6">予選</text><text class="yn" x="-16" y="24">5</text></g>
<g id="b1-17" transform="translate(29 701.35)"><rect class="b" width="99" height="35"/><text class="s" x="49.5" y="11">奈良学園</text><text class="n" x="49.5" y="24">竹原&#8194;怜</text><text class="y" x="-16" y="6">予選</text><text class="yn" x="-16" y="24">60</text></g>
<g id="b1-18" transform="translate(29 741.9)"><rect class="b" width="99" height="35"/><text class="s" x="49.5" y="11">田村</text><text class="n" x="49.5" y="24">石井&#8194;浩平</text><text class="y" x="-16" y="6">予選</text><text class="yn" x="-16" y="24">37</text></g>
<g id="b1-19" transform="translate(29 782.45)"><rect class="b" width="99" height="35"/><text class="s" x="49.5" y="11">佐伯高校</text><text class="n" x="49.5" y="24">井上&#8194;聖也</text><text class="y" x="-16" y="6">予選</text><text class="yn" x="-16" y="24">28</text></g>
<g id="b1-20" transform="translate(29 823)"><rect class="b" width="99" height="35"/><text class="s" x="49.5" y="11">駒場東邦</text><text class="n" x="49.5" y="24">石井&#8194;佑哉</text><text class="y" x="-16" y="6">予選</text><text class="yn" x="-16" y="24">21</text></g>
<g id="b1-21" transform="translate(29 863.55)"><rect class="b" width="99" height="35"/><text class="s" x="49.5" y="11">田村</text><text class="n" x="49.5" y="24">半澤&#8194;宏貴</text><text class="y" x="-16" y="6">予選</text><text class="yn" x="-16" y="24">44</text></g>
<g id="b1-22" transform="translate(29 904.1)"><rect class="b" width="99" height="35"/><text class="s" x="49.5" y="11">和歌山</text><text class="n" x="49.5" y="24">津田&#8194;直人</text><text class="y" x="-16" y="6">予選</text><text class="yn" x="-16" y="24">53</text></g>
<g id="b1-23" transform="translate(29 944.65)"><rect class="b" width="99" height="35"/><text class="s" x="49.5" y="11">大津商業</text><text class="n" x="49.5" y="24">長谷川&#8194;颯磨</text><text class="y" x="-16" y="6">予選</text><text class="yn" x="-16" y="24">12</text></g>
<g id="b1-24" transform="translate(29 985.2)"><rect class="b" width="99" height="35"/><text class="s" x="49.5" y="11">甲南高校</text><text class="n" x="49.5" y="24">岡崎&#8194;恭輔</text><text class="y" x="-16" y="6">予選</text><text class="yn" x="-16" y="24">13</text></g>
<g id="b1-25" transform="translate(29 1025.75)"><rect class="b" width="99" height="35"/><text class="s" x="49.5" y="11">東海大相模</text><text class="n" x="49.5" y="24">鈴鹿&#8194;光輝</text><text class="y" x="-16" y="6">予選</text><text class="yn" x="-16" y="24">52</text></g>
<g id="b1-26" transform="translate(29 1066.3)"><rect class="b" width="99" height="35"/><text class="s" x="49.5" y="11">千葉英和</text><text class="n" x="49.5" y="24">杉山&#8194;裕樹</text><text class="y" x="-16" y="6">予選</text><text class="yn" x="-16" y="24">45</text></g>
<g id="b1-27" transform="translate(29 1106.85)"><rect class="b" width="99" height="35"/><text class="s" x="49.5" y="11">青森山田</text><text class="n" x="49.5" y="24">大谷&#8194;太一</text><text class="y" x="-16" y="6">予選</text><text class="yn" x="-16" y="24">20</text></g>
<g id="b1-28" transform="translate(29 1147.4)"><rect class="b" width="99" height="35"/><text class="s" x="49.5" y="11">三本木農業</text><text class="n" x="49.5" y="24">松村&#8194;昇吾</text><text class="y" x="-16" y="6">予選</text><text class="yn" x="-16" y="24">29</text></g>
<g id="b1-29" transform="translate(29 1187.95)"><rect class="b" width="99" height="35"/><text class="s" x="49.5" y="11">鶴岡工業</text><text class="n" x="49.5" y="24">照井&#8194;翔太</text><text class="y" x="-16" y="6">予選</text><text class="yn" x="-16" y="24">36</text></g>
<g id="b1-30" transform="translate(29 1228.5)"><rect class="b" width="99" height="35"/><text class="s" x="49.5" y="11">大分東明</text><text class="n" x="49.5" y="24">小林&#8194;勇也</text><text class="y" x="-16" y="6">予選</text><text class="yn" x="-16" y="24">61</text></g>
<g id="b1-31" transform="translate(29 1269.05)"><rect class="b" width="99" height="35"/><text class="s" x="49.5" y="11">鶴岡南</text><text class="n" x="49.5" y="24">石川&#8194;竜也</text><text class="y" x="-16" y="6">予選</text><text class="yn" x="-16" y="24">4</text></g>
</g>

<g id="top-r2">
<g id="t2-0" transform="translate(1681 32.28)"><rect class="b" width="99" height="35"/><text class="s" x="49.5" y="11">大村工業</text><text class="n" x="49.5" y="24">青島&#8194;鉄也</text></g>
<g id="t2-1" transform="translate(1681 113.38)"><rect class="b" width="99" height="35"/><text class="s" x="49.5" y="11">知徳</text><text class="n" x="49.5" y="24">尾高&#8194;功之郎</text></g>
<g id="t2-2" transform="translate(1681 194.48)"><rect class="b" width="99" height="35"/><text class="s" x="49.5" y="11">浜松湖東</text><text class="n" x="49.5" y="24">青山&#8194;泰世</text></g>
<g id="t2-3" transform="translate(1681 275.58)"><rect class="b" width="99" height="35"/><text class="s" x="49.5" y="11">NTT駒場</text><text class="n" x="49.5" y="24">小林&#8194;司</text></g>
<g id="t2-4" transform="translate(1681 356.68)"><rect class="b" width="99" height="35"/><text class="s" x="49.5" y="11">能登</text><text class="n" x="49.5" y="24">山口&#8194;真琴</text></g>
<g id="t2-5" transform="translate(1681 437.78)"><rect class="b" width="99" height="35"/><text class="s" x="49.5" y="11">千葉英和</text><text class="n" x="49.5" y="24">渡邊&#8194;翔太</text></g>
<g id="t2-6" transform="translate(1681 518.88)"><rect class="b" width="99" height="35"/><text class="s" x="49.5" y="11">和歌山</text><text class="n" x="49.5" y="24">岩尾&#8194;亘</text></g>
<g id="t2-7" transform="translate(1681 599.98)"><rect class="b" width="99" height="35"/><text class="s" x="49.5" y="11">近大附属</text><text class="n" x="49.5" y="24">鬼山&#8194;大河</text></g>
<g id="t2-8" transform="translate(1681 681.08)"><rect class="b" width="99" height="35"/><text class="s" x="49.5" y="11">奈良学園</text><text class="n" x="49.5" y="24">山本&#8194;治輝</text></g>
<g id="t2-9" transform="translate(1681 762.18)"><rect class="b" width="99" height="35"/><text class="s" x="49.5" y="11">愛産大三河</text><text class="n" x="49.5" y="24">伊禮&#8194;秀明</text></g>
<g id="t2-10" transform="translate(1681 843.28)"><rect class="b" width="99" height="35"/><text class="s" x="49.5" y="11">和陵高校</text><text class="n" x="49.5" y="24">長谷川&#8194;将</text></g>
<g id="t2-11" transform="translate(1681 924.38)"><rect class="b" width="99" height="35"/><text class="s" x="49.5" y="11">近大附属</text><text class="n" x="49.5" y="24">徳川&#8194;翔</text></g>
<g id="t2-12" transform="translate(1681 1005.48)"><rect class="b" width="99" height="35"/><text class="s" x="49.5" y="11">甲南高校</text><text class="n" x="49.5" y="24">中川&#8194;光造</text></g>
<g id="t2-13" transform="translate(1681 1086.58)"><rect class="b" width="99" height="35"/><text class="s" x="49.5" y="11">和陵高校</text><text class="n" x="49.5" y="24">木村&#8194;悠利</text></g>
<g id="t2-14" transform="translate(1681 1167.68)"><rect class="b" width="99" height="35"/><text class="s" x="49.5" y="11">慶誠高校</text><text class="n" x="49.5" y="24">長島&#8194;康生</text></g>
<g id="t2-15" transform="translate(1681 1248.78)"><rect class="b" width="99" height="35"/><text class="s" x="49.5" y="11">近大附属</text><text class="n" x="49.5" y="24">桑江&#8194;良斗</text></g>
</g>

<g id="bottom-r2">
<g id="b2-0" transform="translate(186 32.28)"><rect class="b" width="99" height="35"/><text class="s" x="49.5" y="11">愛産大三河</text><text class="n" x="49.5" y="24">戸松&#8194;大輔</text></g>
<g id="b2-1" transform="translate(186 113.38)"><rect class="b" width="99" height="35"/><text class="s" x="49.5" y="11">四日市四郷</text><text class="n" x="49.5" y="24">田木&#8194;亮成</text></g>
<g id="b2-2" transform="translate(186 194.48)"><rect class="b" width="99" height="35"/><text class="s" x="49.5" y="11">近大附属</text><text class="n" x="49.5" y="24">藤井&#8194;望</text></g>
<g id="b2-3" transform="translate(186 275.58)"><rect class="b" width="99" height="35"/><text class="s" x="49.5" y="11">和陵高校</text><text class="n" x="49.5" y="24">深町&#8194;祐輔</text></g>
<g id="b2-4" transform="translate(186 356.68)"><rect class="b" width="99" height="35"/><text class="s" x="49.5" y="11">東海大星翔</text><text class="n" x="49.5" y="24">戸田&#8194;悠登</text></g>
<g id="b2-5" transform="translate(186 437.78)"><rect class="b" width="99" height="35"/><text class="s" x="49.5" y="11">和陵高校</text><text class="n" x="49.5" y="24">重松&#8194;隼輔</text></g>
<g id="b2-6" transform="translate(186 518.88)"><rect class="b" width="99" height="35"/><text class="s" x="49.5" y="11">流山OM</text><text class="n" x="49.5" y="24">平川&#8194;太将</text></g>
<g id="b2-7" transform="translate(186 599.98)"><rect class="b" width="99" height="35"/><text class="s" x="49.5" y="11">岡山理大附</text><text class="n" x="49.5" y="24">中西&#8194;絢哉</text></g>
<g id="b2-8" transform="translate(186 681.08)"><rect class="b" width="99" height="35"/><text class="s" x="49.5" y="11">高志館</text><text class="n" x="49.5" y="24">畑瀬&#8194;隆嗣</text></g>
<g id="b2-9" transform="translate(186 762.18)"><rect class="b" width="99" height="35"/><text class="s" x="49.5" y="11">田村</text><text class="n" x="49.5" y="24">石井&#8194;浩平</text></g>
<g id="b2-10" transform="translate(186 843.28)"><rect class="b" width="99" height="35"/><text class="s" x="49.5" y="11">駒場東邦</text><text class="n" x="49.5" y="24">石井&#8194;佑哉</text></g>
<g id="b2-11" transform="translate(186 924.38)"><rect class="b" width="99" height="35"/><text class="s" x="49.5" y="11">和歌山</text><text class="n" x="49.5" y="24">津田&#8194;直人</text></g>
<g id="b2-12" transform="translate(186 1005.48)"><rect class="b" width="99" height="35"/><text class="s" x="49.5" y="11">甲南高校</text><text class="n" x="49.5" y="24">岡崎&#8194;恭輔</text></g>
<g id="b2-13" transform="translate(186 1086.58)"><rect class="b" width="99" height="35"/><text class="s" x="49.5" y="11">千葉英和</text><text class="n" x="49.5" y="24">杉山&#8194;裕樹</text></g>
<g id="b2-14" transform="translate(186 1167.68)"><rect class="b" width="99" height="35"/><text class="s" x="49.5" y="11">鶴岡工業</text><text class="n" x="49.5" y="24">照井&#8194;翔太</text></g>
<g id="b2-15" transform="translate(186 1248.78)"><rect class="b" width="99" height="35"/><text class="s" x="49.5" y="11">大分東明</text><text class="n" x="49.5" y="24">小林&#8194;勇也</text></g>
</g>

<g id="top-r3">
<g id="t3-0" transform="translate(1521 72.83)"><rect class="b" width="99" height="35"/><text class="s" x="49.5" y="11">大村工業</text><text class="n" x="49.5" y="24">青島&#8194;鉄也</text></g>
<g id="t3-1" transform="translate(1521 235.03)"><rect class="b" width="99" height="35"/><text class="s" x="49.5" y="11">NTT駒場</text><text class="n" x="49.5" y="24">小林&#8194;司</text></g>
<g id="t3-2" transform="translate(1521 397.23)"><rect class="b" width="99" height="35"/><text class="s" x="49.5" y="11">能登</text><text class="n" x="49.5" y="24">山口&#8194;真琴</text></g>
<g id="t3-3" transform="translate(1521 559.43)"><rect class="b" width="99" height="35"/><text class="s" x="49.5" y="11">近大附属</text><text class="n" x="49.5" y="24">鬼山&#8194;大河</text></g>
<g id="t3-4" transform="translate(1521 721.63)"><rect class="b" width="99" height="35"/><text class="s" x="49.5" y="11">奈良学園</text><text class="n" x="49.5" y="24">山本&#8194;治輝</text></g>
<g id="t3-5" transform="translate(1521 883.83)"><rect class="b" width="99" height="35"/><text class="s" x="49.5" y="11">近大附属</text><text class="n" x="49.5" y="24">徳川&#8194;翔</text></g>
<g id="t3-6" transform="translate(1521 1046.03)"><rect class="b" width="99" height="35"/><text class="s" x="49.5" y="11">甲南高校</text><text class="n" x="49.5" y="24">中川&#8194;光造</text></g>
<g id="t3-7" transform="translate(1521 1208.23)"><rect class="b" width="99" height="35"/><text class="s" x="49.5" y="11">近大附属</text><text class="n" x="49.5" y="24">桑江&#8194;良斗</text></g>
</g>

<g id="bottom-r3">
<g id="b3-0" transform="translate(344 72.83)"><rect class="b" width="99" height="35"/><text class="s" x="49.5" y="11">愛産大三河</text><text class="n" x="49.5" y="24">戸松&#8194;大輔</text></g>
<g id="b3-1" transform="translate(344 235.03)"><rect class="b" width="99" height="35"/><text class="s" x="49.5" y="11">近大附属</text><text class="n" x="49.5" y="24">藤井&#8194;望</text></g>
<g id="b3-2" transform="translate(344 397.23)"><rect class="b" width="99" height="35"/><text class="s" x="49.5" y="11">和陵高校</text><text class="n" x="49.5" y="24">重松&#8194;隼輔</text></g>
<g id="b3-3" transform="translate(344 559.43)"><rect class="b" width="99" height="35"/><text class="s" x="49.5" y="11">岡山理大附</text><text class="n" x="49.5" y="24">中西&#8194;絢哉</text></g>
<g id="b3-4" transform="translate(344 721.63)"><rect class="b" width="99" height="35"/><text class="s" x="49.5" y="11">田村</text><text class="n" x="49.5" y="24">石井&#8194;浩平</text></g>
<g id="b3-5" transform="translate(344 883.83)"><rect class="b" width="99" height="35"/><text class="s" x="49.5" y="11">和歌山</text><text class="n" x="49.5" y="24">津田&#8194;直人</text></g>
<g id="b3-6" transform="translate(344 1046.03)"><rect class="b" width="99" height="35"/><text class="s" x="49.5" y="11">甲南高校</text><text class="n" x="49.5" y="24">岡崎&#8194;恭輔</text></g>
<g id="b3-7" transform="translate(344 1208.23)"><rect class="b" width="99" height="35"/><text class="s" x="49.5" y="11">鶴岡工業</text><text class="n" x="49.5" y="24">照井&#8194;翔太</text></g>
</g>

<g id="quarterfinals">
<g id="tq-0" transform="translate(1361 153.93)"><rect class="b" width="99" height="35"/><text class="s" x="49.5" y="11">大村工業</text><text class="n" x="49.5" y="24">青島&#8194;鉄也</text></g>
<g id="tq-1" transform="translate(1361 478.33)"><rect class="b" width="99" height="35"/><text class="s" x="49.5" y="11">近大附属</text><text class="n" x="49.5" y="24">鬼山&#8194;大河</text></g>
<g id="tq-2" transform="translate(1361 802.73)"><rect class="b" width="99" height="35"/><text class="s" x="49.5" y="11">近大附属</text><text class="n" x="49.5" y="24">徳川&#8194;翔</text></g>
<g id="tq-3" transform="translate(1361 1127.13)"><rect class="b" width="99" height="35"/><text class="s" x="49.5" y="11">近大附属</text><text class="n" x="49.5" y="24">桑江&#8194;良斗</text></g>
<g id="bq-0" transform="translate(504 153.93)"><rect class="b" width="99" height="35"/><text class="s" x="49.5" y="11">愛産大三河</text><text class="n" x="49.5" y="24">戸松&#8194;大輔</text></g>
<g id="bq-1" transform="translate(504 478.33)"><rect class="b" width="99" height="35"/><text class="s" x="49.5" y="11">和陵高校</text><text class="n" x="49.5" y="24">重松&#8194;隼輔</text></g>
<g id="bq-2" transform="translate(504 802.73)"><rect class="b" width="99" height="35"/><text class="s" x="49.5" y="11">和歌山</text><text class="n" x="49.5" y="24">津田&#8194;直人</text></g>
<g id="bq-3" transform="translate(504 1127.13)"><rect class="b" width="99" height="35"/><text class="s" x="49.5" y="11">鶴岡工業</text><text class="n" x="49.5" y="24">照井&#8194;翔太</text></g>
</g>

<g id="semifinals">
<g id="ts-0" transform="translate(1205 316.13)"><rect class="b" width="99" height="35"/><text class="s" x="49.5" y="11">大村工業</text><text class="n" x="49.5" y="24">青島&#8194;鉄也</text></g>
<g id="ts-1" transform="translate(1205 964.93)"><rect class="b" width="99" height="35"/><text class="s" x="49.5" y="11">近大附属</text><text class="n" x="49.5" y="24">徳川&#8194;翔</text></g>
<g id="bs-0" transform="translate(661 316.13)"><rect class="b" width="99" height="35"/><text class="s" x="49.5" y="11">愛産大三河</text><text class="n" x="49.5" y="24">戸松&#8194;大輔</text></g>
<g id="bs-1" transform="translate(661 964.93)"><rect class="b" width="99" height="35"/><text class="s" x="49.5" y="11">和歌山</text><text class="n" x="49.5" y="24">津田&#8194;直人</text></g>
</g>

<g id="final">
<g id="f-top" transform="translate(1035 640.53)"><rect class="b" width="99" height="35"/><text class="s" x="49.5" y="11">大村工業</text><text class="n" x="49.5" y="24">青島&#8194;鉄也</text></g>
<g id="f-bottom" transform="translate(830 640.53)"><rect class="b" width="99" height="35"/><text class="s" x="49.5" y="11">愛産大三河</text><text class="n" x="49.5" y="24">戸松&#8194;大輔</text></g>
<g id="winner" transform="translate(930 558)"><rect class="b" width="105" height="35"/><text class="s" x="52.5" y="11">愛産大三河</text><text class="n" x="52.5" y="24">戸松&#8194;大輔</text></g>
</g>

<g id="third-place">
<g id="p3-top" transform="translate(1035 1147.4)"><rect class="b" width="99" height="35"/><text class="s" x="49.5" y="11">近大附属</text><text class="n" x="49.5" y="24">徳川&#8194;翔</text></g>
<g id="p3-bottom" transform="translate(830 1147.4)"><rect class="b" width="99" height="35"/><text class="s" x="49.5" y="11">和歌山</text><text class="n" x="49.5" y="24">津田&#8194;直人</text></g>
<g id="p3-winner" transform="translate(930 1066.3)"><rect class="b" width="105" height="35"/><text class="s" x="52.5" y="11">近大附属</text><text class="n" x="52.5" y="24">徳川&#8194;翔</text></g>
</g>

<g id="headings">
<text class="ti" x="983" y="37" font-size="24" textLength="620">平成29年度全国高等学校総合体育大会アーチェリー競技大会</text>
<text class="ti" x="983" y="84" font-size="23" textLength="592">高円宮賜牌　第50回全国高等学校アーチェリー選手権大会</text>
<text class="ti" x="982" y="130" font-size="22" textLength="269">男子　個人決勝トーナメント</text>
<text class="ti" x="987" y="165" font-size="15" textLength="240">平成29年8月9日(水) ～ 12日(土)</text>
<text class="ti" x="985" y="186" font-size="15" textLength="190">ひとめぼれスタジアム宮城</text>
<rect x="930" y="377" width="105" height="68" fill="#151515"/>
<text x="982.5" y="411" font-family="'Noto Sans CJK JP',sans-serif" font-size="42" fill="#fff" text-anchor="middle">確定</text>
<text class="ti" x="983.5" y="717" font-size="14">【　決　勝　】</text>
<text class="ti" x="982.5" y="540" font-size="17">第1位</text>
<text class="ti" x="1086" y="620" font-size="17">第2位</text>
<text class="ti" x="985" y="1052" font-size="17">第3位</text>
<text class="ti" x="882.5" y="1128" font-size="17">第4位</text>
<text class="ti" x="982" y="1225" font-size="16">【3位決定戦】</text>
<text x="984.5" y="1292" font-family="'Liberation Sans',Arial,sans-serif" font-size="17.5" font-style="italic" fill="#222" text-anchor="middle">Result By FineSystem</text>
<text class="rd"><tspan x="1884" y="1321">【1回戦】</tspan><tspan x="1730" y="1321">【2回戦】</tspan><tspan x="1567" y="1321">【3回戦】</tspan><tspan x="1411" y="1321">【準々決勝】</tspan><tspan x="1252" y="1321">【準決勝】</tspan><tspan x="714" y="1321">【準決勝】</tspan><tspan x="555" y="1321">【準々決勝】</tspan><tspan x="397" y="1321">【3回戦】</tspan><tspan x="239" y="1321">【2回戦】</tspan><tspan x="82" y="1321">【1回戦】</tspan></text>
</g>
</g>
</svg>
